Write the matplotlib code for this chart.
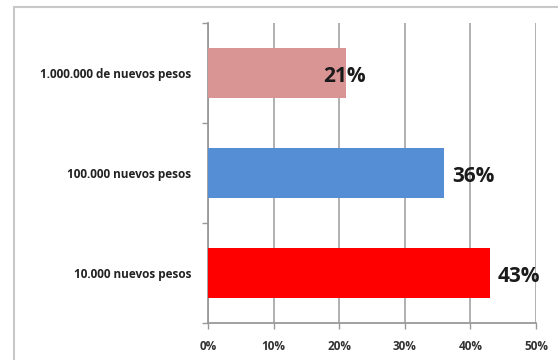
import matplotlib
matplotlib.use("Agg")
import matplotlib.pyplot as plt
from matplotlib.patches import Rectangle

plt.rcParams['font.family'] = ['Open Sans', 'DejaVu Sans']

# Survey shares by amount
categories = ["10.000 nuevos pesos", "100.000 nuevos pesos", "1.000.000 de nuevos pesos"]
values = [43, 36, 21]
colors = ["#ff0000", "#558ed5", "#d99594"]
label_offsets = [1.2, 1.2, -3.4]
xticks = [0, 10, 20, 30, 40, 50]

fig = plt.figure(figsize=(5.58, 3.6), dpi=100)

# light frame around the chart, running off the right and bottom edges
fig.patches.append(Rectangle((14 / 558, -0.05), 1.0, (360 - 7) / 360 + 0.05,
                             transform=fig.transFigure, fill=False,
                             edgecolor="#c8c8c8", linewidth=1.5))

ax = fig.add_axes([208 / 558, 37 / 360, 328 / 558, 300 / 360])
ypos = range(len(categories))
ax.barh(ypos, values, height=0.5, color=colors, zorder=3)

for y, v, off in zip(ypos, values, label_offsets):
    ax.text(v + off, y - 0.04, f"{v}%", ha="left", va="center",
            fontsize=15, fontweight="bold", color="#1a1a1a", zorder=4)

ax.set_xlim(0, 50)
ax.set_ylim(-0.5, 2.5)
ax.set_xticks(xticks)
ax.set_xticklabels([f"{t}%" for t in xticks], fontsize=8.5, fontweight="bold",
                   color="#333333")
ax.set_yticks(list(ypos))
ax.set_yticklabels(categories, fontsize=8.5, fontweight="bold", color="#222222")
ax.set_yticks([-0.5, 0.5, 1.5, 2.5], minor=True)
ax.tick_params(axis="y", which="major", length=0, pad=12)
ax.tick_params(axis="y", which="minor", length=4, color="#999999", width=1)
ax.tick_params(axis="x", length=4, color="#999999", width=1, pad=8)

ax.grid(axis="x", color="#aaaaaa", linewidth=1.3, zorder=0)
for side in ("top", "right"):
    ax.spines[side].set_visible(False)
for side in ("left", "bottom"):
    ax.spines[side].set_color("#999999")
    ax.spines[side].set_linewidth(1.3)

fig.savefig("out.png", dpi=100)
